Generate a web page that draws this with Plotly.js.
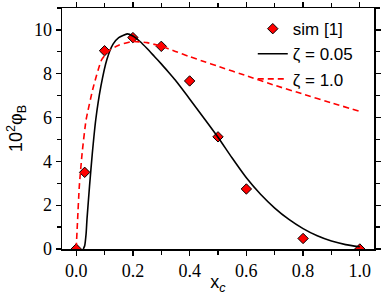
<!DOCTYPE html>
<html>
<head>
<meta charset="utf-8">
<script src="https://cdn.plot.ly/plotly-3.0.1.min.js"></script>
<style>html,body{margin:0;padding:0;background:#fff;}#chart{width:382px;height:295px;}</style>
</head>
<body>
<div id="chart"></div>
<script>
// Simulation data [1]
const simX = [0.0, 0.03, 0.1, 0.2, 0.3, 0.4, 0.5, 0.6, 0.8, 1.0];
const simY = [0.0, 3.5, 9.05, 9.65, 9.25, 7.67, 5.12, 2.74, 0.48, 0.0];

// Theory, zeta = 0.05 (black solid)
const z005X = [0.025, 0.03, 0.035, 0.038, 0.047, 0.057, 0.069, 0.087, 0.108, 0.13, 0.15, 0.18, 0.2, 0.225, 0.25, 0.275, 0.3, 0.325, 0.35, 0.4, 0.45, 0.5, 0.55, 0.6, 0.65, 0.7, 0.75, 0.8, 0.85, 0.9, 0.95, 1.0];
const z005Y = [0.0, 0.15, 0.7, 1.34, 2.86, 4.38, 5.9, 7.42, 8.64, 9.35, 9.65, 9.82, 9.72, 9.47, 9.15, 8.8, 8.45, 8.08, 7.7, 6.85, 5.98, 5.1, 4.15, 3.25, 2.5, 1.87, 1.35, 0.93, 0.6, 0.36, 0.2, 0.1];

// Theory, zeta = 1.0 (red dashed)
const z1X = [0.0, 0.005, 0.011, 0.021, 0.035, 0.061, 0.09, 0.12, 0.15, 0.196, 0.25, 0.3, 0.35, 0.4, 0.45, 0.5, 0.6, 0.7, 0.8, 0.9, 1.0];
const z1Y = [0.0, 1.34, 2.86, 4.38, 5.9, 7.42, 8.64, 9.1, 9.3, 9.47, 9.42, 9.25, 9.02, 8.78, 8.56, 8.34, 7.91, 7.47, 7.07, 6.67, 6.28];

const legendNames = ['sim [1]', 'ζ = 0.05', 'ζ = 1.0'];

const traces = [
  {x: simX, y: simY, mode: 'markers', type: 'scatter', name: legendNames[0],
   marker: {symbol: 'diamond', size: 8, color: '#ff0000', line: {color: '#000', width: 1}}},
  {x: z005X, y: z005Y, mode: 'lines', type: 'scatter', name: legendNames[1],
   line: {color: '#000', width: 1.6, shape: 'spline', smoothing: 0.5}},
  {x: z1X, y: z1Y, mode: 'lines', type: 'scatter', name: legendNames[2],
   line: {color: '#ff0000', width: 1.6, dash: '6px,4px', shape: 'spline', smoothing: 0.5}}
];

const SERIF = '"Liberation Serif", "Times New Roman", serif';
const SANS = '"Liberation Sans", Arial, sans-serif';
const tickFont = {family: SERIF, size: 18, color: '#000'};
const layout = {
  width: 382, height: 295,
  margin: {l: 62, r: 8, t: 8, b: 46},
  paper_bgcolor: '#fff', plot_bgcolor: '#fff',
  font: {family: SANS, size: 18, color: '#000'},
  showlegend: true,
  legend: {x: 0.948, y: 0.987, xanchor: 'right', yanchor: 'top', bgcolor: 'rgba(0,0,0,0)',
           font: {family: SANS, size: 17, color: '#000'},
           itemwidth: 30, tracegroupgap: 0},
  xaxis: {range: [-0.05, 1.05], tickvals: [0, 0.2, 0.4, 0.6, 0.8, 1.0], ticktext: ['0.0','0.2','0.4','0.6','0.8','1.0'],
          ticks: 'outside', ticklen: 5, tickwidth: 1.2, tickcolor: '#000',
          minor: {dtick: 0.1, tick0: 0, ticks: 'outside', ticklen: 4, tickwidth: 1.2, tickcolor: '#000', showgrid: false},
          showline: true, linecolor: '#000', linewidth: 1.5, mirror: 'allticks', showgrid: false, zeroline: false,
          tickfont: tickFont,
          title: {text: 'x<sub><i>c</i></sub>',
                  font: {family: SANS, size: 18, color: '#000'}, standoff: 4}},
  yaxis: {range: [0, 11], tickvals: [0, 2, 4, 6, 8, 10], ticktext: ['0','2','4','6','8','10'],
          ticks: 'outside', ticklen: 5, tickwidth: 1.2, tickcolor: '#000',
          minor: {dtick: 1, tick0: 0, ticks: 'outside', ticklen: 4, tickwidth: 1.2, tickcolor: '#000', showgrid: false},
          showline: true, linecolor: '#000', linewidth: 1.5, mirror: 'allticks', showgrid: false, zeroline: false,
          tickfont: tickFont,
          title: {text: '10<sup>2</sup>φ<sub>B</sub>',
                  font: {family: SANS, size: 18, color: '#000'}, standoff: 6}}
};

Plotly.newPlot('chart', traces, layout, {staticPlot: true, displayModeBar: false});
</script>
</body>
</html>
